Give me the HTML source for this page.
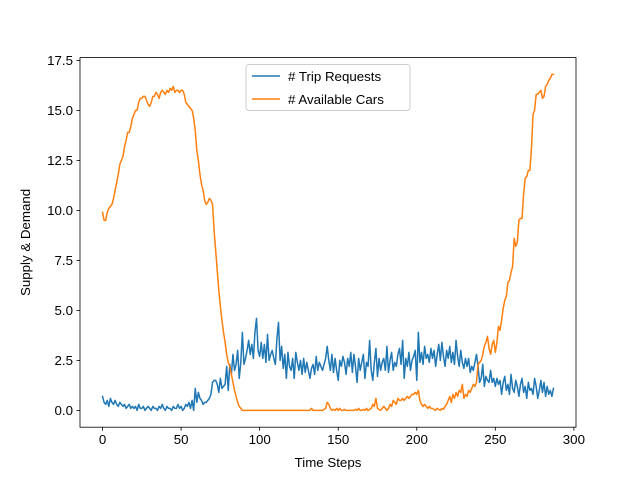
<!DOCTYPE html>
<html><head><meta charset="utf-8"><style>
body{margin:0;background:#fff}
svg{font-family:"Liberation Sans","DejaVu Sans",sans-serif;display:block}
</style></head><body>
<svg id="chart" width="640" height="480" viewBox="0 0 640 480"></svg>
<script>
const xTicks=[0,50,100,150,200,250,300];
const yTicks=[0,2.5,5,7.5,10,12.5,15,17.5];
const yTickLabels=["0.0","2.5","5.0","7.5","10.0","12.5","15.0","17.5"];
const seriesNames=["# Trip Requests","# Available Cars"];
const tripRequests=[
0.7,0.4,0.3,0.5,0.2,0.6,0.4,0.3,0.5,0.3,
0.2,0.4,0.3,0.2,0.3,0.1,0.2,0.3,0.1,0.2,
0.1,0.2,0.0,0.3,0.1,0.1,0.2,0.0,0.1,0.2,
0.1,0.0,0.2,0.1,0.1,0.0,0.2,0.1,0.3,0.1,
0.0,0.2,0.1,0.1,0.0,0.2,0.1,0.1,0.3,0.1,
0.2,0.0,0.1,0.3,0.2,0.4,0.1,0.5,0.0,1.1,
0.4,0.9,0.6,0.5,0.3,0.4,0.4,0.5,0.6,0.8,
1.4,1.5,1.5,1.3,0.9,1.6,1.1,1.2,1.3,2.2,
1.0,2.3,1.8,2.8,2.0,2.3,3.0,1.6,2.4,3.9,
2.3,2.6,3.0,3.5,2.8,3.3,2.6,3.9,4.6,3.0,
2.7,3.4,2.6,3.3,2.4,3.8,2.5,2.8,3.0,2.6,
2.3,3.6,4.4,2.5,3.2,2.1,2.8,1.6,2.9,2.2,
2.0,2.6,1.6,2.9,2.4,2.0,2.5,1.8,2.6,1.9,
2.4,2.0,1.6,2.1,2.3,1.8,2.7,2.0,2.4,2.2,
2.0,2.3,2.6,3.2,2.5,2.0,2.8,1.9,2.6,2.0,
1.5,2.5,2.2,2.7,2.4,1.8,2.6,2.2,2.9,1.9,
2.8,2.2,1.4,2.6,2.0,2.4,2.8,1.6,2.4,2.2,
3.5,2.0,1.5,2.4,3.1,1.7,2.6,2.0,2.4,2.6,
2.0,3.2,1.9,2.5,2.9,2.0,2.4,2.2,2.8,3.1,
2.3,3.5,1.6,2.6,2.2,2.9,2.0,2.5,2.7,3.0,
1.5,3.9,2.4,2.9,2.3,3.2,2.6,2.8,2.4,3.1,
2.6,3.0,2.2,2.8,3.3,2.5,3.4,2.7,2.2,3.0,
2.6,3.2,2.4,2.9,2.3,3.5,2.7,2.2,3.0,2.4,
2.1,2.6,2.2,2.6,1.9,2.2,2.0,2.4,2.8,2.2,
1.4,1.6,2.3,1.2,1.7,1.5,1.4,2.0,1.4,1.6,
1.2,1.6,1.3,1.5,0.8,1.4,1.7,1.0,1.3,0.8,
1.8,1.1,0.9,1.5,1.2,0.7,1.3,1.6,0.9,1.2,
0.6,1.4,1.0,1.1,0.8,1.6,1.2,0.6,1.0,1.5,
0.9,1.4,0.7,1.2,0.8,1.0,0.7,1.1];
const availableCars=[
9.9,9.5,9.5,9.9,10.1,10.2,10.3,10.6,11.0,11.4,
11.8,12.3,12.5,12.7,13.2,13.5,13.9,13.9,14.2,14.6,
14.8,15.0,15.0,15.4,15.6,15.6,15.7,15.7,15.5,15.3,
15.2,15.4,15.7,15.7,15.9,15.8,15.6,15.9,16.0,15.9,
15.8,16.0,15.9,16.1,16.0,16.2,15.9,16.0,16.0,15.9,
16.0,16.0,15.8,15.4,15.3,15.2,15.1,15.0,14.6,14.0,
13.0,12.5,11.8,11.3,11.0,10.5,10.3,10.4,10.6,10.5,
10.3,9.0,8.0,7.0,6.0,5.2,4.5,3.9,3.4,2.8,
2.4,2.2,1.8,1.4,1.0,0.7,0.4,0.2,0.1,0.0,
0,0,0,0,0,0,0,0,0,0,
0,0,0,0,0,0,0,0,0,0,
0,0,0,0,0,0,0,0,0,0,
0,0,0,0,0,0,0,0,0,0,
0,0,0,0.1,0,0,0,0,0,0,
0,0.05,0.1,0.4,0.3,0.1,0.0,0.05,0,0.1,
0,0.1,0,0,0.05,0,0,0,0,0,
0,0.05,0,0.1,0,0,0.05,0,0.1,0,
0.05,0.1,0.3,0.2,0.6,0.1,0.05,0,0.1,0.2,
0.1,0.0,0.1,0.3,0.2,0.5,0.4,0.3,0.6,0.5,
0.5,0.6,0.5,0.6,0.7,0.6,0.7,0.8,0.8,0.9,
0.8,1.0,0.5,0.3,0.2,0.3,0.2,0.1,0.2,0.1,
0.1,0.05,0.0,0.1,0.05,0.0,0.1,0.05,0.2,0.3,
0.5,0.7,0.4,0.8,0.6,0.9,0.7,1.0,0.9,1.3,
0.6,0.8,0.7,1.0,0.9,1.1,1.3,1.2,1.4,2.3,
2.4,2.5,2.8,3.2,3.4,3.7,3.1,2.8,3.3,3.5,
2.9,3.4,4.2,4.0,4.5,5.1,5.5,5.7,6.4,6.5,
6.9,7.2,8.6,8.2,8.4,9.5,9.6,9.6,10.8,11.6,
11.7,12.0,12.0,13.1,14.8,15.0,15.8,15.8,15.9,16.0,
15.6,15.7,16.2,16.3,16.5,16.6,16.8,16.8];

const NS="http://www.w3.org/2000/svg";
const svg=document.getElementById('chart');
const L=80,R=576,T=57.6,B=427.2;
const xMin=-14.35,xMax=301.35,yMin=-0.84,yMax=17.64;
const xs=v=>L+(v-xMin)/(xMax-xMin)*(R-L);
const ys=v=>B-(v-yMin)/(yMax-yMin)*(B-T);
function mk(tag,attrs,parent){const e=document.createElementNS(NS,tag);for(const k in attrs)e.setAttribute(k,attrs[k]);(parent||svg).appendChild(e);return e;}

const colors=["#1f77b4","#ff7f0e"];
[tripRequests,availableCars].forEach((data,si)=>{
  const p=mk('polyline',{points:data.map((v,i)=>xs(i).toFixed(2)+','+ys(v).toFixed(2)).join(' '),fill:'none',stroke:colors[si],'stroke-width':1.5,'stroke-linejoin':'round','stroke-linecap':'square'});
  
  
});

const frame=mk('rect',{x:L,y:T,width:R-L,height:B-T,fill:'none',stroke:'#000','stroke-width':0.8});



xTicks.forEach(t=>{
  const x=xs(t);
  const tk=mk('line',{x1:x,x2:x,y1:B,y2:B+3.5,stroke:'#000','stroke-width':0.8});
  
  
  const tx=mk('text',{x:x,y:B+17,'font-size':13.3,'text-anchor':'middle',fill:'#000'});
  tx.textContent=String(t);
  
  
});
yTicks.forEach((t,i)=>{
  const y=ys(t);
  const tk=mk('line',{x1:L-3.5,x2:L,y1:y,y2:y,stroke:'#000','stroke-width':0.8});
  
  
  const tx=mk('text',{x:L-7,y:y+4.8,'font-size':13.3,'text-anchor':'end',fill:'#000'});
  tx.textContent=yTickLabels[i];
  
  
});

const xt=mk('text',{x:(L+R)/2,y:467,'font-size':13.3,'text-anchor':'middle'});
xt.textContent='Time Steps';


const yt=mk('text',{x:0,y:0,'font-size':13.3,'text-anchor':'middle',transform:'translate(30,'+((T+B)/2)+') rotate(-90)'});
yt.textContent='Supply & Demand';



const lg=mk('g',{});


mk('rect',{x:246,y:64.5,width:164,height:46,rx:3,fill:'#fff','fill-opacity':0.8,stroke:'#ccc','stroke-width':1},lg);
seriesNames.forEach((n,i)=>{
  const y=76+i*23;
  const en=mk('g',{},lg);
  
  
  mk('line',{x1:252,x2:280,y1:y,y2:y,stroke:colors[i],'stroke-width':1.5},en);
  const t=mk('text',{x:288,y:y+4.8,'font-size':13.3},en);
  t.textContent=n;
});
</script>
</body></html>
